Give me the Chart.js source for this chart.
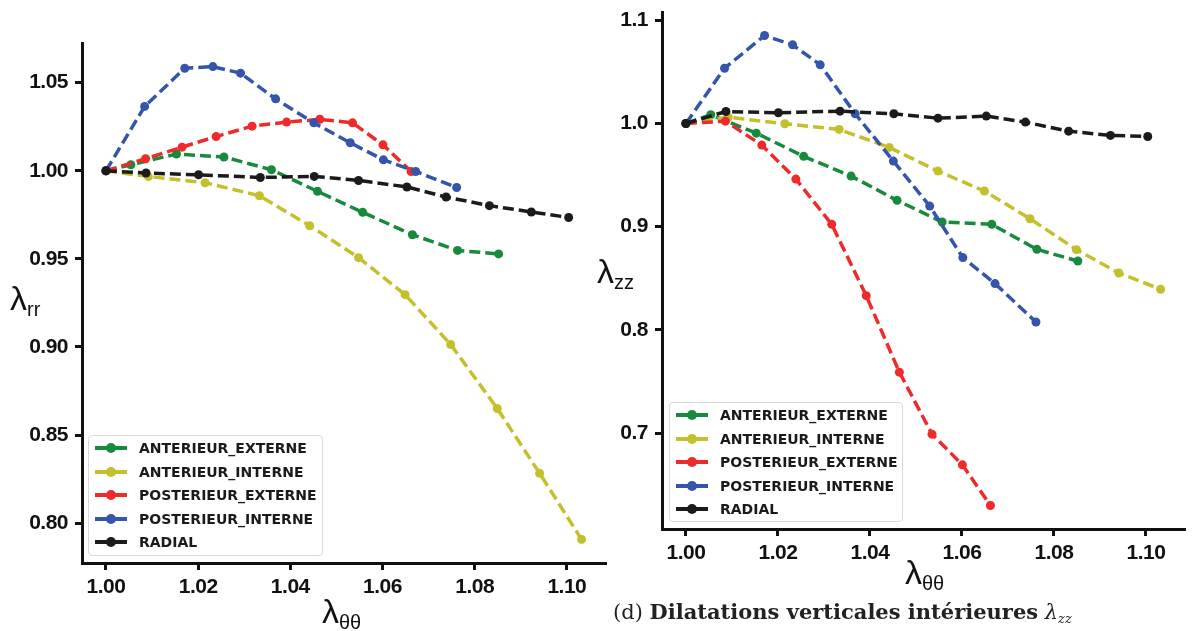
<!DOCTYPE html>
<html>
<head>
<meta charset="utf-8">
<script src="https://cdn.jsdelivr.net/npm/chart.js@4.4.1/dist/chart.umd.min.js"></script>
<style>
  html, body { margin: 0; padding: 0; background: #fff; }
  #wrap { position: relative; width: 1192px; height: 631px; overflow: hidden; }
  canvas { position: absolute; top: 0; }
  #cLeft { left: 0; }
  #cRight { left: 612px; }
  .ttl { position: absolute; font-family: 'Liberation Sans', Arial, sans-serif; font-size: 34px; line-height: 34px; color: #111; white-space: nowrap; }
  .ttl span { font-size: 20px; vertical-align: -6px; }
  .legend { position: absolute; background: rgba(255,255,255,0.85); border: 1px solid #d9d9d9; border-radius: 4px; box-sizing: border-box; }
  .legend .row { position: absolute; left: 0; height: 24px; width: 100%; }
  .legend .line { position: absolute; top: 10px; height: 4px; width: 32px; }
  .legend .dot { position: absolute; top: 7px; width: 10px; height: 10px; border-radius: 50%; }
  .legend .txt { position: absolute; top: 3px; font-family: 'DejaVu Sans', sans-serif; font-weight: bold; font-size: 14px; line-height: 18px; color: #1a1a1a; white-space: nowrap; }
  #caption { position: absolute; left: 613px; top: 601px; font-family: 'DejaVu Serif', serif; font-size: 21px; line-height: 21px; color: #222; white-space: nowrap; }
  #caption sub { font-size: 13px; vertical-align: -4px; }
</style>
</head>
<body>
<div id="wrap">
  <canvas id="cLeft" width="612" height="631"></canvas>
  <canvas id="cRight" width="580" height="631"></canvas>

  <div class="ttl" style="left:10px; top:281px;">λ<span>rr</span></div>
  <div class="ttl" style="left:322px; top:594px;">λ<span>θθ</span></div>
  <div class="ttl" style="left:597px; top:254px;">λ<span>zz</span></div>
  <div class="ttl" style="left:905px; top:555px;">λ<span>θθ</span></div>

  <div class="legend" id="legLeft" style="left:88px; top:435px; width:235px; height:121px;"></div>
  <div class="legend" id="legRight" style="left:669px; top:402px; width:234px; height:120px;"></div>

  <div id="caption">(d) <b>Dilatations verticales intérieures</b> <i>λ<sub>zz</sub></i></div>
</div>

<script>
const names = ['ANTERIEUR_EXTERNE', 'ANTERIEUR_INTERNE', 'POSTERIEUR_EXTERNE', 'POSTERIEUR_INTERNE', 'RADIAL'];
const colors = ['#178a3e', '#c3c02c', '#ee2a2a', '#3455a9', '#1b1b1b'];

// lambda_theta_theta for each series (shared by both panels)
const thetaAntExt = [1.0, 1.0054, 1.0153, 1.0256, 1.0359, 1.0459, 1.0557, 1.0665, 1.0763, 1.0852];
const thetaAntInt = [1.0, 1.0092, 1.0215, 1.0333, 1.0442, 1.0548, 1.0649, 1.0748, 1.0849, 1.0941, 1.1032];
const thetaPostExt = [1.0, 1.0086, 1.0165, 1.0239, 1.0317, 1.0392, 1.0464, 1.0535, 1.0601, 1.0662];
const thetaPostInt = [1.0, 1.0084, 1.0171, 1.0232, 1.0292, 1.0368, 1.0451, 1.053, 1.0602, 1.0672, 1.0761];
const thetaRadial = [1.0, 1.0087, 1.0201, 1.0335, 1.0452, 1.0548, 1.0653, 1.0738, 1.0832, 1.0923, 1.1004];

// lambda_rr (left panel)
const rrAntExt = [1.0, 1.0034, 1.0095, 1.0078, 1.0006, 0.9883, 0.9764, 0.9637, 0.9548, 0.9528];
const rrAntInt = [1.0, 0.9967, 0.9932, 0.9858, 0.9688, 0.9507, 0.9297, 0.9014, 0.8651, 0.8283, 0.7908];
const rrPostExt = [1.0, 1.0068, 1.0134, 1.0194, 1.0253, 1.0276, 1.0292, 1.0272, 1.0147, 0.9996];
const rrPostInt = [1.0, 1.0365, 1.0582, 1.0591, 1.0554, 1.0408, 1.0272, 1.0159, 1.0062, 0.9996, 0.9905];
const rrRadial = [1.0, 0.9987, 0.9977, 0.9962, 0.9968, 0.9945, 0.9908, 0.9851, 0.9802, 0.9766, 0.9735];

// lambda_zz (right panel)
const zzAntExt = [1.0, 1.0084, 0.9906, 0.9681, 0.949, 0.9255, 0.9045, 0.9022, 0.878, 0.8667];
const zzAntInt = [1.0, 1.006, 0.9997, 0.9942, 0.9768, 0.9538, 0.9345, 0.9077, 0.8777, 0.8551, 0.8393];
const zzPostExt = [1.0, 1.0022, 0.979, 0.9461, 0.9022, 0.8331, 0.759, 0.6989, 0.6692, 0.6298];
const zzPostInt = [1.0, 1.0535, 1.0852, 1.0762, 1.0568, 1.0094, 0.9635, 0.9199, 0.87, 0.8448, 0.8076];
const zzRadial = [1.0, 1.0116, 1.0104, 1.0119, 1.0094, 1.0051, 1.0071, 1.0013, 0.9925, 0.9884, 0.9874];

const xTicks = [1.00, 1.02, 1.04, 1.06, 1.08, 1.10];
const rrTicks = [0.80, 0.85, 0.90, 0.95, 1.00, 1.05];
const zzTicks = [0.7, 0.8, 0.9, 1.0, 1.1];

const thetas = [thetaAntExt, thetaAntInt, thetaPostExt, thetaPostInt, thetaRadial];

const tickFont = { family: "'Liberation Sans', Arial, sans-serif", size: 21, weight: 'bold' };

const tightText = {
    id: 'tightText',
    beforeDraw(chart) { chart.ctx.letterSpacing = '-0.5px'; }
};

function makeDatasets(ySeries) {
    return ySeries.map((ys, i) => ({
        label: names[i],
        data: thetas[i].map((x, j) => ({ x: x, y: ys[j] })),
        borderColor: colors[i],
        backgroundColor: colors[i],
        pointBackgroundColor: colors[i],
        pointBorderWidth: 0,
        pointRadius: 4.5,
        borderWidth: 3.5,
        borderDash: [11, 5],
        tension: 0,
        fill: false,
        order: 4 - i
    }));
}

function axisStyle() {
    return {
        border: { display: true, color: '#111', width: 3 },
        grid: { drawOnChartArea: false, drawTicks: true, tickLength: 7, tickWidth: 3, tickColor: '#111', color: '#111' }
    };
}

function makeChart(id, ySeries, yTicks, digits, yMin, yMax, yWidth, xHeight, padding) {
    new Chart(document.getElementById(id), {
        type: 'line',
        data: { datasets: makeDatasets(ySeries) },
        options: {
            responsive: false,
            animation: false,
            devicePixelRatio: 1,
            layout: { padding: padding },
            plugins: { legend: { display: false }, tooltip: { enabled: false } },
            scales: {
                x: {
                    type: 'linear',
                    min: 0.9948, max: 1.1085,
                    ...axisStyle(),
                    afterBuildTicks: s => { s.ticks = xTicks.map(v => ({ value: v })); },
                    afterFit: s => { s.height = xHeight; s.paddingLeft = 0; s.paddingRight = 0; },
                    ticks: { font: tickFont, color: '#111', padding: 5, maxRotation: 0, callback: v => v.toFixed(2) }
                },
                y: {
                    type: 'linear',
                    min: yMin, max: yMax,
                    ...axisStyle(),
                    afterBuildTicks: s => { s.ticks = yTicks.map(v => ({ value: v })); },
                    afterFit: s => { s.width = yWidth; s.paddingTop = 0; s.paddingBottom = 0; },
                    ticks: { font: tickFont, color: '#111', padding: 7, callback: v => v.toFixed(digits) }
                }
            }
        },
        plugins: [tightText]
    });
}

makeChart('cLeft', [rrAntExt, rrAntInt, rrPostExt, rrPostInt, rrRadial], rrTicks, 2,
    0.7774, 1.0725, 82, 631 - 563, { top: 43, right: 6, left: 0, bottom: 0 });
makeChart('cRight', [zzAntExt, zzAntInt, zzPostExt, zzPostInt, zzRadial], zzTicks, 1,
    0.607, 1.108, 50, 631 - 529, { top: 12, right: 7, left: 0, bottom: 0 });

function buildLegend(id, lineLeft, textLeft) {
    const box = document.getElementById(id);
    names.forEach((n, i) => {
        const row = document.createElement('div');
        row.className = 'row';
        row.style.top = (0 + i * 23.5) + 'px';
        row.innerHTML =
            '<div class="line" style="left:' + lineLeft + 'px;background:' + colors[i] + '"></div>' +
            '<div class="dot" style="left:' + (lineLeft + 11) + 'px;background:' + colors[i] + '"></div>' +
            '<div class="txt" style="left:' + textLeft + 'px">' + n + '</div>';
        box.appendChild(row);
    });
}
buildLegend('legLeft', 6, 50);
buildLegend('legRight', 6, 50);
</script>
</body>
</html>
